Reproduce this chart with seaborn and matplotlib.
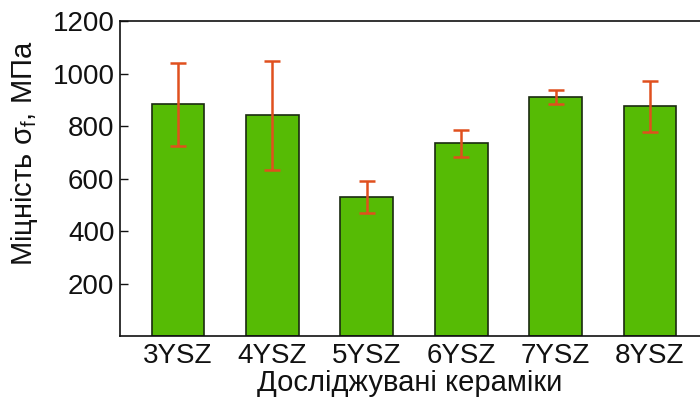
import matplotlib
matplotlib.use("Agg")
import matplotlib.pyplot as plt
import seaborn as sns
import pandas as pd

# Flexural strength of YSZ ceramics
ceramics = ["3YSZ", "4YSZ", "5YSZ", "6YSZ", "7YSZ", "8YSZ"]
strength = [882, 841, 528, 734, 912, 876]
strength_err = [157, 207, 61, 52, 27, 97]
y_ticks = [200, 400, 600, 800, 1000, 1200]

sns.set_theme(style="ticks")
plt.rcParams["font.family"] = ["Liberation Sans", "DejaVu Sans"]
plt.rcParams["mathtext.fontset"] = "custom"
plt.rcParams["mathtext.rm"] = "Liberation Sans"
plt.rcParams["mathtext.it"] = "Liberation Sans:italic"
plt.rcParams["text.color"] = "#111111"
plt.rcParams["axes.labelcolor"] = "#111111"
plt.rcParams["xtick.color"] = "#111111"
plt.rcParams["ytick.color"] = "#111111"

df = pd.DataFrame({"ceramic": ceramics, "strength": strength, "err": strength_err})

fig = plt.figure(figsize=(7.0, 4.07), dpi=100)
ax = fig.add_axes([0.1714, 0.1744, 0.8286, 0.774])

sns.barplot(data=df, x="ceramic", y="strength", color="#56BB05", saturation=1,
            width=0.56, edgecolor="#1a2a10", linewidth=1.2, errorbar=None, ax=ax)
ax.errorbar(range(len(ceramics)), df["strength"], yerr=df["err"], fmt="none",
            ecolor="#E0501E", elinewidth=1.8, capsize=6, capthick=1.8, zorder=5)

ax.set_xlim(-0.615, 5.53)
ax.set_ylim(0, 1200)
ax.set_yticks(y_ticks)
ax.tick_params(axis="y", direction="in", length=6, width=1, labelsize=20, pad=4)
ax.tick_params(axis="x", length=0, labelsize=20, pad=5)
for side in ("left", "top", "bottom"):
    ax.spines[side].set_linewidth(1.2)
    ax.spines[side].set_color("#111111")
ax.spines["right"].set_visible(False)

ax.set_xlabel("Досліджувані кераміки", fontsize=21, labelpad=0)
ax.set_ylabel(r"Міцність σ$_\mathrm{f}$, МПа", fontsize=21)
ax.yaxis.set_label_coords(-0.138, 0.58)

fig.savefig("out.png", dpi=100)
